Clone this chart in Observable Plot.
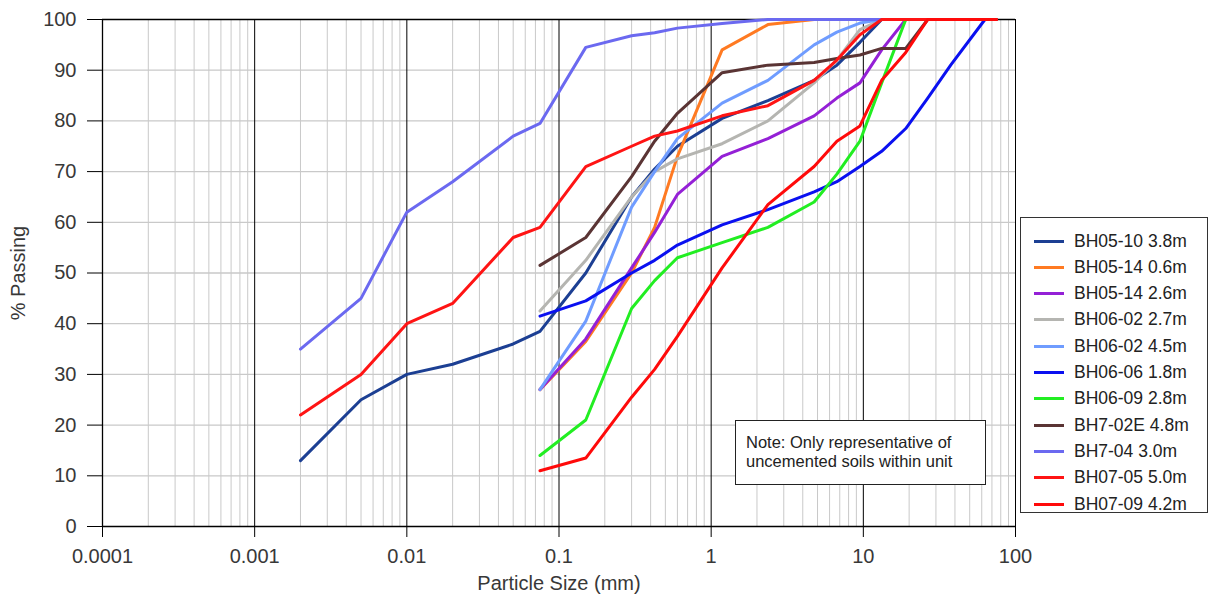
<!DOCTYPE html>
<html><head><meta charset="utf-8">
<script src="https://cdn.jsdelivr.net/npm/d3@7"></script>
<script src="https://cdn.jsdelivr.net/npm/@observablehq/plot@0.6"></script>
<style>
body{margin:0;background:#fff;font-family:"Liberation Sans",Arial,sans-serif;}
#wrap{position:relative;width:1211px;height:599px;}
#legend{position:absolute;left:1020px;top:217px;width:188px;height:296px;border:1.5px solid #333;box-sizing:border-box;background:#fff;}
.item{position:absolute;left:0;height:20px;display:flex;align-items:center;font-size:17.5px;color:#222;white-space:nowrap;}
.sw{width:30px;height:3px;margin-left:13px;margin-right:10px;}
#note{position:absolute;left:735px;top:420px;width:251px;height:65px;border:1.5px solid #222;box-sizing:border-box;background:#fff;font-size:16.5px;line-height:19px;color:#222;padding:12px 0 0 10px;}
</style></head><body><div id="wrap"></div>
<script>
// sieve / particle sizes (mm)
const sieves = [0.002, 0.005, 0.01, 0.02, 0.05, 0.075, 0.15, 0.3, 0.425, 0.6, 1.18, 2.36, 4.75, 6.7, 9.5, 13.2, 19, 26.5, 37.5, 63, 75];
const seriesNames = ["BH05-10 3.8m","BH05-14 0.6m","BH05-14 2.6m","BH06-02 2.7m","BH06-02 4.5m","BH06-06 1.8m","BH06-09 2.8m","BH7-02E 4.8m","BH7-04 3.0m","BH07-05 5.0m","BH07-09 4.2m"];
const seriesColors = ["#1c3f93","#ff7a22","#9420d6","#b5b5b1","#6f9cff","#0a10f0","#22ee22","#5a3434","#6b69f0","#ff1414","#ff0a0a"];
const xTicks = [0.0001, 0.001, 0.01, 0.1, 1, 10, 100];
const yTicks = [0,10,20,30,40,50,60,70,80,90,100];
const _ = null;
// % passing per series, aligned with sieves
const pBH0510_38 = [13,25,30,32,36,38.5,50,65,70.5,75,80.5,84,88,91,95.5,100,100,100,100,100,100];
const pBH0514_06 = [_,_,_,_,_,27,36.5,50,59,73,94,99,100,100,100,100,100,100,100,100,100];
const pBH0514_26 = [_,_,_,_,_,27,37,51,58,65.5,73,76.5,81,84.5,87.5,94,100,100,100,100,100];
const pBH0602_27 = [_,_,_,_,_,42.5,52.5,65,70,72.5,75.5,80,87.5,92,98,100,100,100,100,100,100];
const pBH0602_45 = [_,_,_,_,_,27,40.5,63,70,76.5,83.5,88,95,97.5,99.3,100,100,100,100,100,100];
const pBH0606_18 = [_,_,_,_,_,41.5,44.5,50,52.5,55.5,59.5,62.5,66,68,71,74,78.5,84.5,91,100,100];
const pBH0609_28 = [_,_,_,_,_,14,21,43,48.5,53,56,59,64,69.5,76,87.5,100,100,100,100,100];
const pBH702E_48 = [_,_,_,_,_,51.5,57,69,76,81.5,89.5,91,91.5,92.3,93,94.3,94.3,100,100,100,100];
const pBH704_30 = [35,45,62,68,77,79.5,94.5,96.8,97.4,98.3,99.2,100,100,100,100,100,100,100,100,100,100];
const pBH0705_50 = [22,30,40,44,57,59,71,75,77,78,81,83,88,92,97,100,100,100,100,100,100];
const pBH0709_42 = [_,_,_,_,_,11,13.5,25.5,31,37.5,51,63.5,71,76,79,88,93.5,100,100,100,100];
const seriesValues = [pBH0510_38,pBH0514_06,pBH0514_26,pBH0602_27,pBH0602_45,pBH0606_18,pBH0609_28,pBH702E_48,pBH704_30,pBH0705_50,pBH0709_42];

const rows = [];
seriesNames.forEach((name, i) => {
  seriesValues[i].forEach((v, j) => { if (v != null) rows.push({series: name, size: sieves[j], pct: v}); });
});
const minor = [];
for (let k = -4; k <= 1; k++) for (let m = 2; m <= 9; m++) minor.push(+(m * Math.pow(10, k)).toPrecision(3));
const yGrid = yTicks.filter(d => d > 0 && d < 100);

const chart = Plot.plot({
  width: 1211, height: 599,
  marginLeft: 102, marginRight: 196, marginTop: 19, marginBottom: 73,
  style: {fontFamily: "'Liberation Sans', Arial, sans-serif", fontSize: "20px", color: "#383838", background: "white", overflow: "visible"},
  x: {type: "log", domain: [0.0001, 100]},
  y: {domain: [0, 100]},
  color: {domain: seriesNames, range: seriesColors},
  marks: [
    Plot.ruleX(minor, {stroke: "#c9c9c9", strokeWidth: 1}),
    Plot.ruleY(yGrid, {stroke: "#c9c9c9", strokeWidth: 1.3}),
    Plot.ruleX(xTicks, {stroke: "#000", strokeWidth: 1}),
    Plot.ruleY([100], {stroke: "#000", strokeWidth: 1.3}),
    Plot.line(rows, {x: "size", y: "pct", z: "series", stroke: "series", strokeWidth: 3, strokeLinejoin: "round", strokeLinecap: "round"}),
    Plot.ruleY([0], {stroke: "#000", strokeWidth: 1.3}),
    Plot.ruleX([0.0001], {stroke: "#000", strokeWidth: 1.3}),
    Plot.axisX(xTicks, {tickFormat: d => String(d), tickSize: 11, tickPadding: 11, stroke: "#000", label: "Particle Size (mm)", labelAnchor: "center", labelArrow: "none", labelOffset: 63}),
    Plot.axisY(yTicks, {tickSize: 15, tickPadding: 11, stroke: "#000", label: "% Passing", labelAnchor: "center", labelArrow: "none", labelOffset: 92})
  ]
});
const wrap = document.getElementById("wrap");
wrap.appendChild(chart);

const legend = document.createElement("div");
legend.id = "legend";
seriesNames.forEach((name, i) => {
  const it = document.createElement("div");
  it.className = "item";
  it.style.top = (13 + i * 26.3) + "px";
  const sw = document.createElement("span");
  sw.className = "sw";
  sw.style.background = seriesColors[i];
  const tx = document.createElement("span");
  tx.textContent = name;
  it.appendChild(sw); it.appendChild(tx);
  legend.appendChild(it);
});
wrap.appendChild(legend);

const note = document.createElement("div");
note.id = "note";
note.innerHTML = "Note: Only representative of<br>uncemented soils within unit";
wrap.appendChild(note);
</script>
</body></html>
